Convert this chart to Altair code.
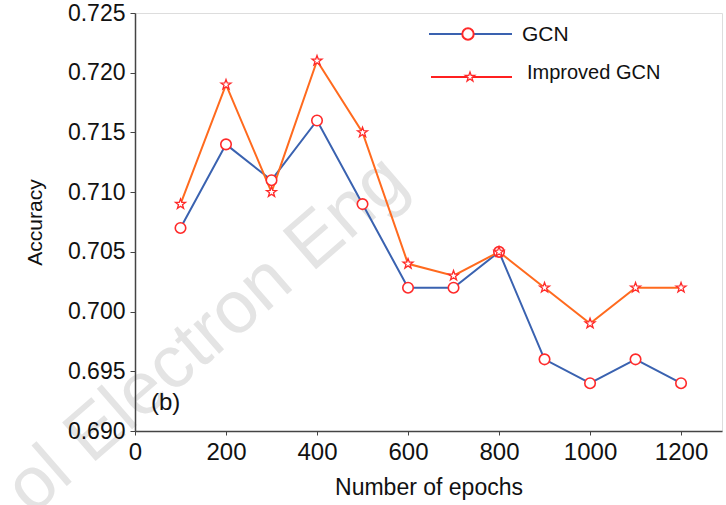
import altair as alt
import pandas as pd

epochs = [100, 200, 300, 400, 500, 600, 700, 800, 900, 1000, 1100, 1200]
gcn = [0.707, 0.714, 0.711, 0.716, 0.709, 0.702, 0.702, 0.705, 0.696, 0.694, 0.696, 0.694]
improved = [0.709, 0.719, 0.710, 0.721, 0.715, 0.704, 0.703, 0.705, 0.702, 0.699, 0.702, 0.702]
series_names = ["GCN", "Improved GCN"]
x_ticks = [0, 200, 400, 600, 800, 1000, 1200]
y_ticks = [0.690, 0.695, 0.700, 0.705, 0.710, 0.715, 0.720, 0.725]

FONT = "Liberation Sans"
STAR = "M0,-1L0.24,-0.33L0.95,-0.31L0.38,0.12L0.59,0.81L0,0.4L-0.59,0.81L-0.38,0.12L-0.95,-0.31L-0.24,-0.33Z"
RED = "#ff2a2a"

df = pd.DataFrame({
    "epoch": epochs * 2,
    "acc": gcn + improved,
    "series": [series_names[0]] * len(epochs) + [series_names[1]] * len(epochs),
})

xs = alt.Scale(domain=[0, 1290], nice=False, zero=False)
ys = alt.Scale(domain=[0.690, 0.725], nice=False, zero=False)

X = alt.X("epoch:Q", scale=xs, title="Number of epochs",
          axis=alt.Axis(values=x_ticks, format="d", labelFontSize=24, titleFontSize=23,
                        labelFont=FONT, titleFont=FONT, labelColor="#111", titleColor="#111",
                        tickSize=4, tickColor="#444", domainColor="#444", domainWidth=1.5,
                        labelPadding=5, titlePadding=12, grid=False, titleFontWeight="normal",
                        labelFlush=False, zindex=1))
Y = alt.Y("acc:Q", scale=ys, title="Accuracy",
          axis=alt.Axis(values=y_ticks, format=".3f", labelFontSize=23, titleFontSize=21,
                        labelFont=FONT, titleFont=FONT, labelColor="#111", titleColor="#111",
                        tickSize=5, tickColor="#444", domainColor="#444", domainWidth=1.5,
                        labelPadding=5, titlePadding=22, grid=False, titleFontWeight="normal",
                        labelFlush=False, zindex=1))

line_colors = ["#3a62b0", "#ff6a1e"]
color = alt.Color("series:N", scale=alt.Scale(domain=series_names, range=line_colors), legend=None)

watermark = alt.Chart(pd.DataFrame({"t": ["ol Electron Eng"]})).mark_text(
    align="center", baseline="middle", fontSize=74, font=FONT, color="#e4e4e4", angle=319
).encode(x=alt.value(72), y=alt.value(322), text="t:N")

lines = alt.Chart(df).mark_line(strokeWidth=2).encode(x=X, y=Y, color=color)

gcn_pts = alt.Chart(df[df.series == "GCN"]).mark_point(
    shape="circle", size=110, filled=False, fill="white", fillOpacity=1,
    stroke=RED, strokeWidth=1.6).encode(x=X, y=Y)
imp_pts = alt.Chart(df[df.series == "Improved GCN"]).mark_point(
    shape=STAR, size=110, filled=False, fill="white", fillOpacity=1,
    stroke=RED, strokeWidth=1.3).encode(x=X, y=Y)

# legend (manual)
leg = pd.DataFrame({"series": series_names})
leg_l1 = alt.Chart(leg[leg.series == "GCN"]).mark_rule(strokeWidth=2).encode(
    x=alt.value(294), x2=alt.value(377), y=alt.value(21), color=color)
leg_l2 = alt.Chart(leg[leg.series == "Improved GCN"]).mark_rule(strokeWidth=2).encode(
    x=alt.value(296), x2=alt.value(377), y=alt.value(64), color=alt.value("#ff2020"))
leg_gcn = alt.Chart(leg[leg.series == "GCN"]).mark_point(
    shape="circle", size=130, filled=False, fill="white", fillOpacity=1,
    stroke=RED, strokeWidth=2).encode(x=alt.value(333), y=alt.value(21))
leg_imp = alt.Chart(leg[leg.series == "Improved GCN"]).mark_point(
    shape=STAR, size=100, filled=False, fill="white", fillOpacity=1,
    stroke=RED, strokeWidth=1.3).encode(x=alt.value(335), y=alt.value(64))
leg_t1 = alt.Chart(leg[leg.series == "GCN"]).mark_text(
    align="left", baseline="middle", fontSize=21, font=FONT, color="#111").encode(
    x=alt.value(387), y=alt.value(22), text="series:N")
leg_t2 = alt.Chart(leg[leg.series == "Improved GCN"]).mark_text(
    align="left", baseline="middle", fontSize=20, font=FONT, color="#111").encode(
    x=alt.value(392), y=alt.value(60), text="series:N")

panel = alt.Chart(pd.DataFrame({"t": ["(b)"]})).mark_text(
    align="left", baseline="middle", fontSize=24, font=FONT, color="#111").encode(
    x=alt.value(16), y=alt.value(390), text="t:N")

chart = alt.layer(watermark, lines, gcn_pts, imp_pts, leg_l1, leg_l2, leg_gcn, leg_imp,
                  leg_t1, leg_t2, panel).properties(
    width=587, height=418,
    autosize=alt.AutoSizeParams(type="none"),
    padding={"left": 135, "top": 13, "right": 4, "bottom": 74},
).configure_view(stroke="#888", strokeWidth=1.5).configure(background="white")

chart.save("out.html", embed_options={"renderer": "svg", "actions": False})
